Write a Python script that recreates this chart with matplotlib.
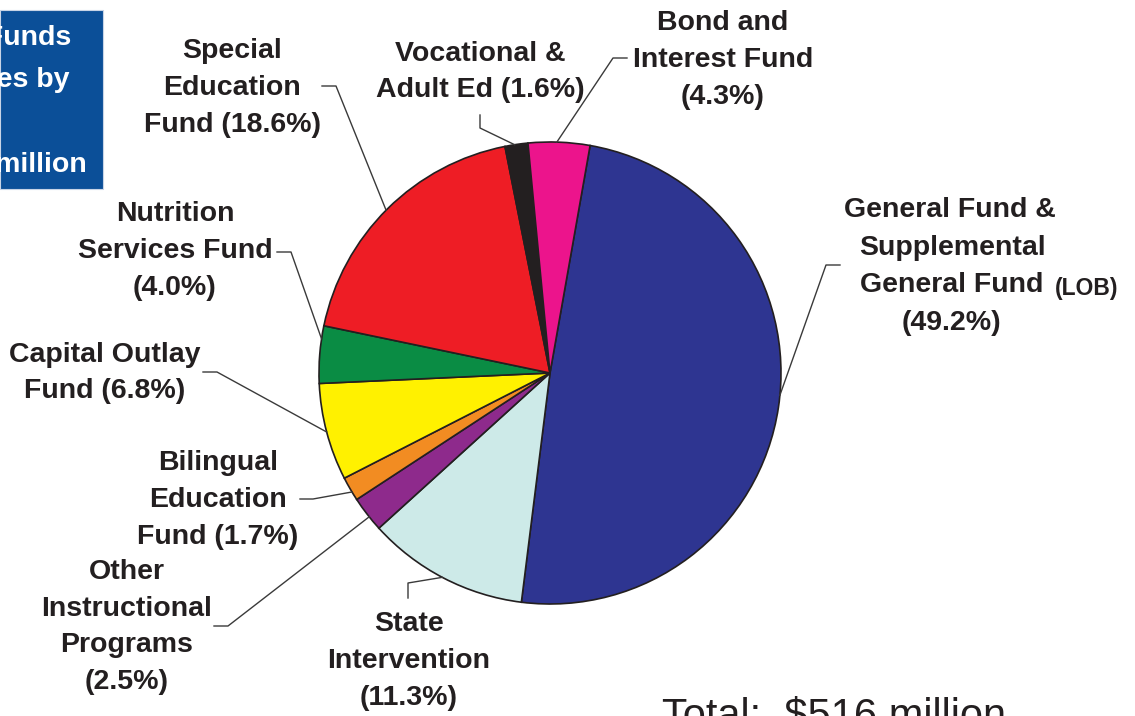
import matplotlib
matplotlib.use('Agg')
import matplotlib.pyplot as plt
import numpy as np
from matplotlib.patches import Rectangle

W, H = 1135, 716

funds = ['General Fund & Supplemental General Fund (LOB)', 'State Intervention',
         'Other Instructional Programs', 'Bilingual Education Fund', 'Capital Outlay Fund',
         'Nutrition Services Fund', 'Special Education Fund', 'Vocational & Adult Ed',
         'Bond and Interest Fund']
shares = [49.2, 11.3, 2.5, 1.7, 6.8, 4.0, 18.6, 1.6, 4.3]
colors = ['#2E3591', '#CDEAE8', '#8E2A8C', '#F28C22', '#FFF100',
          '#0A8C44', '#EE1D25', '#231F20', '#EC148C']
labels = ['', 'State\nIntervention\n(11.3%)', 'Other\nInstructional\nPrograms\n(2.5%)',
          'Bilingual\nEducation\nFund (1.7%)', 'Capital Outlay\nFund (6.8%)',
          'Nutrition\nServices Fund\n(4.0%)', 'Special\nEducation\nFund (18.6%)',
          'Vocational &\nAdult Ed (1.6%)', 'Bond and\nInterest Fund\n(4.3%)']

# layout in pixel coords (y from top)
cx, cy, R = 550, 373, 231
label_pos = [None, (409, 661), (127, 627), (218, 500), (105, 373),
             (175, 251), (232, 88), (480, 72), (723, 60)]
anchor_ang = [-5.5, 242.2, 218.5, 211.0, 194.8, 171.5, 135.2, 98.8, 88.3]
elbows = [(826, 265), (408, 583), (228, 626), (313, 499), (217, 372),
          (291, 252), (336, 86), (480, 128), (613, 58)]
ends = [(840, 265), (408, 598), (214, 626), (300, 499), (203, 372),
        (277, 252), (322, 86), (480, 115), (627, 58)]


def P(x, y):
    return x, H - y


fig = plt.figure(figsize=(W / 100, H / 100), dpi=100)
ax = fig.add_axes([0, 0, 1, 1])

ax.pie(shares, colors=colors, startangle=80, counterclock=False,
       center=P(cx, cy), radius=R,
       wedgeprops=dict(edgecolor='#231F20', linewidth=1.2))
ax.set_xlim(0, W)
ax.set_ylim(0, H)
ax.set_aspect('equal')
ax.axis('off')

bold = dict(family='Liberation Sans', fontweight='bold', fontsize=20.5, color='#231F20')

for i in range(len(shares)):
    a = np.deg2rad(anchor_ang[i])
    x0, y0 = cx + R * np.cos(a), cy - R * np.sin(a)
    xs = [x0, elbows[i][0], ends[i][0]]
    ys = [H - y0, H - elbows[i][1], H - ends[i][1]]
    ax.plot(xs, ys, color='#3A3A3A', lw=1.0)
    if label_pos[i] is not None:
        ax.text(*P(*label_pos[i]), labels[i], ha='center', va='center',
                linespacing=1.54, **bold)

# general fund label, drawn line by line
ax.text(*P(950, 210), 'General Fund &', ha='center', va='center', **bold)
ax.text(*P(952, 248), 'Supplemental', ha='center', va='center', **bold)
ax.text(*P(860, 285), 'General Fund', ha='left', va='center', **bold)
ax.text(*P(1055, 288), '(LOB)', ha='left', va='center',
        family='Liberation Sans', fontweight='bold', fontsize=16.5, color='#231F20')
ax.text(*P(951, 323), '(49.2%)', ha='center', va='center', **bold)

# title box, cropped at the left edge as in the original
box = Rectangle(P(0, 189), 103, 179, facecolor='#0B4F98', edgecolor='#C8D4E6', lw=0.8)
ax.add_patch(box)
for txt, x, y in [('Total Funds', 71, 38), ('Expenditures by', 70, 80), ('$516 million', 87, 165)]:
    t = ax.text(*P(x, y), txt, ha='right', va='center', color='white',
                family='Liberation Sans', fontweight='bold', fontsize=20.5)
    t.set_clip_path(box)

ax.text(*P(662, 728), 'Total:  $516 million', ha='left', va='baseline',
        family='Liberation Sans', fontsize=30, color='#231F20')

fig.savefig('out.png', dpi=100)
